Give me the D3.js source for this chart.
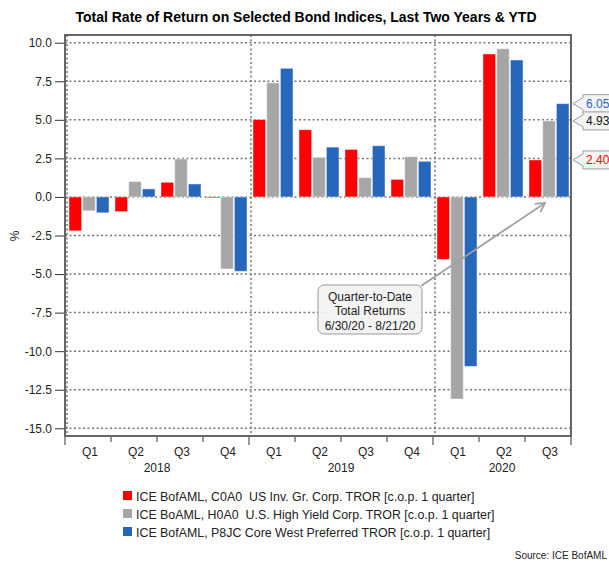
<!DOCTYPE html>
<html>
<head>
<meta charset="utf-8">
<script src="https://cdn.jsdelivr.net/npm/d3@7"></script>
<style>
  body { margin: 0; background: #fff; }
  svg { font-family: "Liberation Sans", Arial, sans-serif; }
  .grid line { stroke: #777; stroke-width: 1.5; stroke-dasharray: 2,2.5; }
  .tick-label { font-size: 12px; fill: #222; }
</style>
</head>
<body>
<script>
const W = 609, H = 562
const M = {left: 65, top: 35, right: 571, bottom: 436}

// data
const periods = ["2018 Q1","2018 Q2","2018 Q3","2018 Q4","2019 Q1","2019 Q2","2019 Q3","2019 Q4","2020 Q1","2020 Q2","2020 Q3"]
const quarterLabels = ["Q1","Q2","Q3","Q4","Q1","Q2","Q3","Q4","Q1","Q2","Q3"]
const years = ["2018","2019","2020"]
const invGrade = [-2.20, -0.95, 0.95, -0.05, 5.02, 4.36, 3.08, 1.14, -4.05, 9.27, 2.40]
const highYield = [-0.90, 1.00, 2.46, -4.67, 7.40, 2.57, 1.25, 2.61, -13.10, 9.61, 4.93]
const preferred = [-1.03, 0.52, 0.84, -4.82, 8.34, 3.23, 3.32, 2.31, -10.99, 8.88, 6.05]
const yTicks = [10, 7.5, 5, 2.5, 0, -2.5, -5, -7.5, -10, -12.5, -15]
const seriesNames = [
    "ICE BofAML, C0A0\u00a0 US Inv. Gr. Corp. TROR [c.o.p. 1 quarter]",
    "ICE BoAML, H0A0\u00a0 U.S. High Yield Corp. TROR [c.o.p. 1 quarter]",
    "ICE BofAML, P8JC Core West Preferred TROR [c.o.p. 1 quarter]"
]
const colors = ["#ff0000", "#a6a6a6", "#2767bb"]
const labelColors = ["#ff0000", "#111", "#2767bb"]

const series = [invGrade, highYield, preferred]

var svg = d3.select("body").append("svg").attr("width", W).attr("height", H)

var x0 = d3.scaleBand().domain(periods).range([M.left, M.right]).padding(0)
var x1 = d3.scaleBand().domain([0,1,2]).range([4, 44]).paddingInner(0.08)
var y = d3.scaleLinear().domain([-15.5, 10.5]).range([M.bottom, M.top])

// title
svg.append("text")
    .attr("x", 306).attr("y", 22)
    .attr("text-anchor", "middle")
    .style("font-size", "14px").style("font-weight", "bold")
    .text("Total Rate of Return on Selected Bond Indices, Last Two Years & YTD")

// grid
var grid = svg.append("g").classed("grid", true)
grid.selectAll("line.h").data(yTicks).enter().append("line")
    .attr("x1", M.left).attr("x2", M.right)
    .attr("y1", d => y(d)).attr("y2", d => y(d))
var yearStarts = periods.filter(p => p.endsWith("Q1"))
grid.selectAll("line.v").data(yearStarts).enter().append("line")
    .attr("x1", d => x0(d) + 2).attr("x2", d => x0(d) + 2)
    .attr("y1", M.top).attr("y2", M.bottom)

// bars
var groups = svg.append("g").selectAll("g").data(periods).enter().append("g")
    .attr("transform", d => "translate(" + x0(d) + ",0)")
groups.selectAll("rect").data((d, i) => series.map((s, k) => ({k: k, v: s[i]}))).enter().append("rect")
    .attr("x", d => x1(d.k))
    .attr("width", x1.bandwidth())
    .attr("y", d => y(Math.max(0, d.v)))
    .attr("height", d => Math.max(1, Math.abs(y(d.v) - y(0))))
    .attr("fill", d => colors[d.k])
    .attr("stroke", "#fff").attr("stroke-opacity", 0.45).attr("stroke-width", 1)

// frame
svg.append("rect")
    .attr("x", M.left).attr("y", M.top)
    .attr("width", M.right - M.left).attr("height", M.bottom - M.top)
    .attr("fill", "none").attr("stroke", "#666").attr("stroke-width", 2)

// y axis
var yAxis = d3.axisLeft(y).tickValues(yTicks).tickSize(9).tickPadding(3).tickFormat(d3.format(".1f"))
var ya = svg.append("g").attr("transform", "translate(" + (M.left - 1) + ",0)").call(yAxis)
ya.select(".domain").remove()
ya.selectAll(".tick line").attr("stroke", "#333")
ya.selectAll("text").attr("class", "tick-label").attr("fill", "#222")
    .text(d => d < 0 ? "-" + d3.format(".1f")(-d) : d3.format(".1f")(d))

svg.append("text")
    .attr("transform", "translate(19,236) rotate(-90)")
    .attr("text-anchor", "middle")
    .attr("class", "tick-label")
    .text("%")

// x axis ticks
var boundaries = periods.map(p => x0(p)).concat([M.right])
svg.append("g").selectAll("line").data(boundaries).enter().append("line")
    .attr("x1", d => d).attr("x2", d => d)
    .attr("y1", M.bottom + 1)
    .attr("y2", (d, i) => (i % 4 === 0 || i === periods.length) ? M.bottom + 9 : M.bottom + 6)
    .attr("stroke", "#333").attr("stroke-width", 1)

svg.append("g").selectAll("text").data(periods).enter().append("text")
    .attr("x", (d) => x0(d) + x0.bandwidth() / 2 + 2)
    .attr("y", M.bottom + 20)
    .attr("text-anchor", "middle")
    .attr("class", "tick-label")
    .text((d, i) => quarterLabels[i])

svg.append("g").selectAll("text").data(years).enter().append("text")
    .attr("x", d => {
        var ps = periods.filter(p => p.startsWith(d))
        return (x0(ps[0]) + x0(ps[ps.length - 1]) + x0.bandwidth()) / 2
    })
    .attr("y", M.bottom + 36)
    .attr("text-anchor", "middle")
    .attr("class", "tick-label")
    .text(d => d)

// latest value callouts
var last = periods.length - 1
var callouts = svg.append("g").selectAll("g").data([0, 2, 1]).enter().append("g")
    .attr("transform", k => "translate(" + (M.right + 2) + "," + y(series[k][last]) + ")")
callouts.append("path")
    .attr("d", "M0,0 L10,-6 L10,-9 L50,-9 L50,9 L10,9 L10,6 Z")
    .attr("fill", "#f4f4f4").attr("stroke", "#999").attr("stroke-width", 1)
callouts.append("text")
    .attr("x", 13).attr("y", 4.5)
    .attr("class", "tick-label")
    .style("fill", k => labelColors[k])
    .text(k => d3.format(".2f")(series[k][last]))

// annotation
var defs = svg.append("defs")
defs.append("marker").attr("id", "arrow")
    .attr("viewBox", "0 0 12 12").attr("refX", 10).attr("refY", 6)
    .attr("markerWidth", 12).attr("markerHeight", 12)
    .attr("markerUnits", "userSpaceOnUse")
    .attr("orient", "auto")
    .append("path").attr("d", "M1,1 L10,6 L1,11")
    .attr("fill", "none").attr("stroke", "#a0a0a0").attr("stroke-width", 1.8)

svg.append("line")
    .attr("x1", 421).attr("y1", 286)
    .attr("x2", x0(periods[last]) + 20).attr("y2", y(0) + 6)
    .attr("stroke", "#a0a0a0").attr("stroke-width", 1.8)
    .attr("marker-end", "url(#arrow)")

svg.append("rect")
    .attr("x", 318).attr("y", 285).attr("width", 104).attr("height", 49)
    .attr("rx", 6)
    .attr("fill", "#f2f2f2").attr("fill-opacity", 0.92)
    .attr("stroke", "#999").attr("stroke-width", 1)
svg.append("text")
    .attr("x", 370).attr("text-anchor", "middle")
    .attr("class", "tick-label")
    .selectAll("tspan").data(["Quarter-to-Date", "Total Returns", "6/30/20 - 8/21/20"]).enter().append("tspan")
    .attr("x", 370).attr("y", (d, i) => 301 + i * 14.3)
    .text(d => d)

// legend
var legend = svg.append("g").selectAll("g").data(seriesNames).enter().append("g")
    .attr("transform", (d, i) => "translate(123," + (496 + i * 18) + ")")
legend.append("rect").attr("x", 0).attr("y", -5).attr("width", 9).attr("height", 9)
    .attr("fill", (d, i) => colors[i])
legend.append("text").attr("x", 13).attr("y", 4.5)
    .attr("class", "tick-label")
    .style("font-size", "12.4px")
    .text(d => d)

svg.append("text")
    .attr("x", 607).attr("y", 559)
    .attr("text-anchor", "end")
    .style("font-size", "10px").attr("fill", "#222")
    .text("Source: ICE BofAML")
</script>
</body>
</html>
